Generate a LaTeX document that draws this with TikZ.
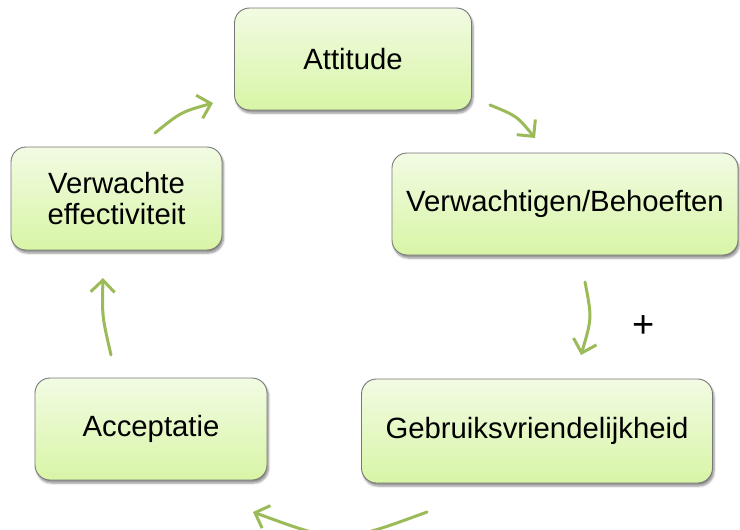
\documentclass[tikz,border=0pt]{standalone}
\usepackage{fontspec}
\setmainfont{Liberation Sans}
\usetikzlibrary{arrows.meta,shadows.blur}
\definecolor{boxtop}{HTML}{F2FBE3}
\definecolor{boxbot}{HTML}{D8F5A6}
\definecolor{boxline}{HTML}{777777}
\definecolor{arrowgreen}{HTML}{9BBB59}
\tikzset{
  stepbox/.style={draw=boxline, line width=0.9pt, rounded corners=15pt,
    top color=boxtop, bottom color=boxbot, inner sep=0pt, align=center,
    font=\fontsize{29.3}{31}\selectfont,
    blur shadow={shadow xshift=1.5pt, shadow yshift=-3pt, shadow blur steps=6, shadow opacity=45}},
  cyc/.style={draw=arrowgreen, line width=3pt, line cap=round,
    -{Straight Barb[length=12pt,width=24pt]}}
}
\begin{document}
\begin{tikzpicture}[x=1pt,y=-1pt]
\useasboundingbox (0,0) rectangle (740,530);
\node[stepbox, minimum width=237pt, minimum height=102pt] (att) at (353,59) {Attitude};
\node[stepbox, minimum width=346pt, minimum height=102pt] (verw) at (565,204) {Verwachtigen/Behoeften};
\node[stepbox, minimum width=351pt, minimum height=104pt] (gebr) at (537,431) {Gebruiksvriendelijkheid};
\node[stepbox, minimum width=232pt, minimum height=102pt] (acc) at (151,429) {Acceptatie};
\node[stepbox, minimum width=211pt, minimum height=103pt] (eff) at (116.5,198.5) {Verwachte\\effectiviteit};
\node[font=\fontsize{38}{40}\selectfont] (plus) at (644,327) {+};
% connector end points
\coordinate (a1s) at (490,105); \coordinate (a1e) at (535,138);
\coordinate (a2s) at (585,282); \coordinate (a2e) at (581,355);
\coordinate (a3s) at (427,512); \coordinate (a3e) at (253,512);
\coordinate (a4s) at (111,355); \coordinate (a4e) at (103,278);
\coordinate (a5s) at (155,133); \coordinate (a5e) at (213,103);
\draw[cyc] (a1s) .. controls (517,116) .. (a1e);
\draw[cyc] (a2s) .. controls (592,318) .. (a2e);
\draw[cyc] (a3s) .. controls (340,544) .. (a3e);
\draw[cyc] (a4s) .. controls (102,316) .. (a4e);
\draw[cyc] (a5s) .. controls (181,112) .. (a5e);
\end{tikzpicture}
\end{document}
